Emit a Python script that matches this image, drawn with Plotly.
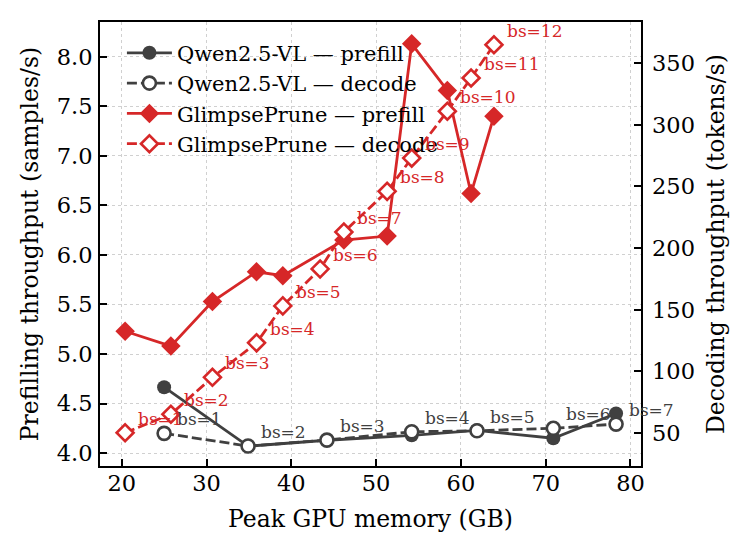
import plotly.graph_objects as go

# Qwen2.5-VL baseline, batch sizes 1..7
qwen_mem = [25.0, 34.9, 44.2, 54.2, 61.9, 70.9, 78.3]
qwen_prefill = [4.665, 4.07, 4.13, 4.18, 4.23, 4.15, 4.40]
qwen_decode = [49.5, 39.2, 44.0, 50.8, 51.6, 53.6, 57.0]
qwen_bs = [1, 2, 3, 4, 5, 6, 7]

# GlimpsePrune, batch sizes 1..12 (no prefill number for bs=6)
glimpse_mem = [20.4, 25.8, 30.7, 35.9, 39.0, 43.4, 46.2, 51.3, 54.2, 58.4, 61.2, 63.9]
glimpse_prefill = [5.23, 5.08, 5.53, 5.83, 5.79, None, 6.15, 6.19, 8.13, 7.66, 6.62, 7.40]
glimpse_decode = [50, 65, 95, 123, 153, 183, 213, 246, 273, 311, 338, 365]
glimpse_bs = list(range(1, 13))

decode_ticks = [50, 100, 150, 200, 250, 300, 350]

GRAY = "#404040"
RED = "#d62728"
FONT = "DejaVu Serif"
DASH = "10px,4px"
LW = 2.8

fig = go.Figure()

fig.add_trace(go.Scatter(
    x=qwen_mem, y=qwen_prefill, name="Qwen2.5-VL — prefill",
    mode="lines+markers",
    line=dict(color=GRAY, width=LW),
    marker=dict(symbol="circle", size=14, color=GRAY),
))
fig.add_trace(go.Scatter(
    x=qwen_mem, y=qwen_decode, name="Qwen2.5-VL — decode", yaxis="y2",
    mode="lines+markers",
    line=dict(color=GRAY, width=LW, dash=DASH),
    marker=dict(symbol="circle", size=13, color="white", line=dict(color=GRAY, width=2.6)),
))
fig.add_trace(go.Scatter(
    x=glimpse_mem, y=glimpse_prefill, name="GlimpsePrune — prefill",
    mode="lines+markers", connectgaps=True,
    line=dict(color=RED, width=LW),
    marker=dict(symbol="diamond", size=15, color=RED),
))
fig.add_trace(go.Scatter(
    x=glimpse_mem, y=glimpse_decode, name="GlimpsePrune — decode", yaxis="y2",
    mode="lines+markers",
    line=dict(color=RED, width=LW, dash=DASH),
    marker=dict(symbol="diamond", size=13, color="white", line=dict(color=RED, width=2.6)),
))

# batch-size labels next to decode points
for mem, val, bs in zip(qwen_mem, qwen_decode, qwen_bs):
    fig.add_annotation(x=mem, y=val, yref="y2", text=f"bs={bs}", showarrow=False,
                       xanchor="left", yanchor="middle", xshift=11, yshift=14,
                       font=dict(family=FONT, size=17, color=GRAY))
for mem, val, bs in zip(glimpse_mem, glimpse_decode, glimpse_bs):
    fig.add_annotation(x=mem, y=val, yref="y2", text=f"bs={bs}", showarrow=False,
                       xanchor="left", yanchor="middle", xshift=11, yshift=14,
                       font=dict(family=FONT, size=17, color=RED))

# right axis labels, left-aligned like matplotlib
for v in decode_ticks:
    fig.add_annotation(x=1, xref="paper", y=v, yref="y2", text=str(v), showarrow=False,
                       xanchor="left", yanchor="middle", xshift=9,
                       font=dict(family=FONT, size=22.5, color="black"))
fig.add_annotation(x=1, xref="paper", y=0.5, yref="paper", text="Decoding throughput (tokens/s)",
                   showarrow=False, textangle=-90, xanchor="center", yanchor="middle", xshift=75,
                   font=dict(family=FONT, size=23.5, color="black"))

axis_common = dict(
    showline=True, linecolor="black", linewidth=1.8,
    ticks="inside", ticklen=7, tickwidth=1.5, tickcolor="black",
    tickfont=dict(family=FONT, size=22.5, color="black"),
    zeroline=False,
)
grid = dict(showgrid=True, gridcolor="#d0d0d0", griddash="dot", gridwidth=0.8)
title_font = dict(family=FONT, size=23.5)

fig.update_layout(
    width=749, height=555,
    margin=dict(l=92, r=116, t=14, b=97),
    paper_bgcolor="white", plot_bgcolor="white",
    font=dict(family=FONT, color="black"),
    showlegend=True,
    legend=dict(x=0.0405, y=0.976, xanchor="left", yanchor="top", itemwidth=45,
                bgcolor="rgba(0,0,0,0)", font=dict(family=FONT, size=21, color="black")),
    xaxis=dict(
        range=[17.44, 81.24], dtick=10, mirror=True,
        title=dict(text="Peak GPU memory (GB)", font=title_font, standoff=16),
        ticklabelstandoff=-4,
        **grid, **axis_common,
    ),
    yaxis=dict(
        range=[3.87, 8.35], dtick=0.5, tickformat=".1f", mirror=True,
        title=dict(text="Prefilling throughput (samples/s)", font=title_font, standoff=12),
        ticklabelstandoff=1,
        **grid, **axis_common,
    ),
    yaxis2=dict(
        range=[23, 383.5], tickvals=decode_ticks, showticklabels=False,
        overlaying="y", side="right", showgrid=False,
        **axis_common,
    ),
)

fig.write_html("out.html")
